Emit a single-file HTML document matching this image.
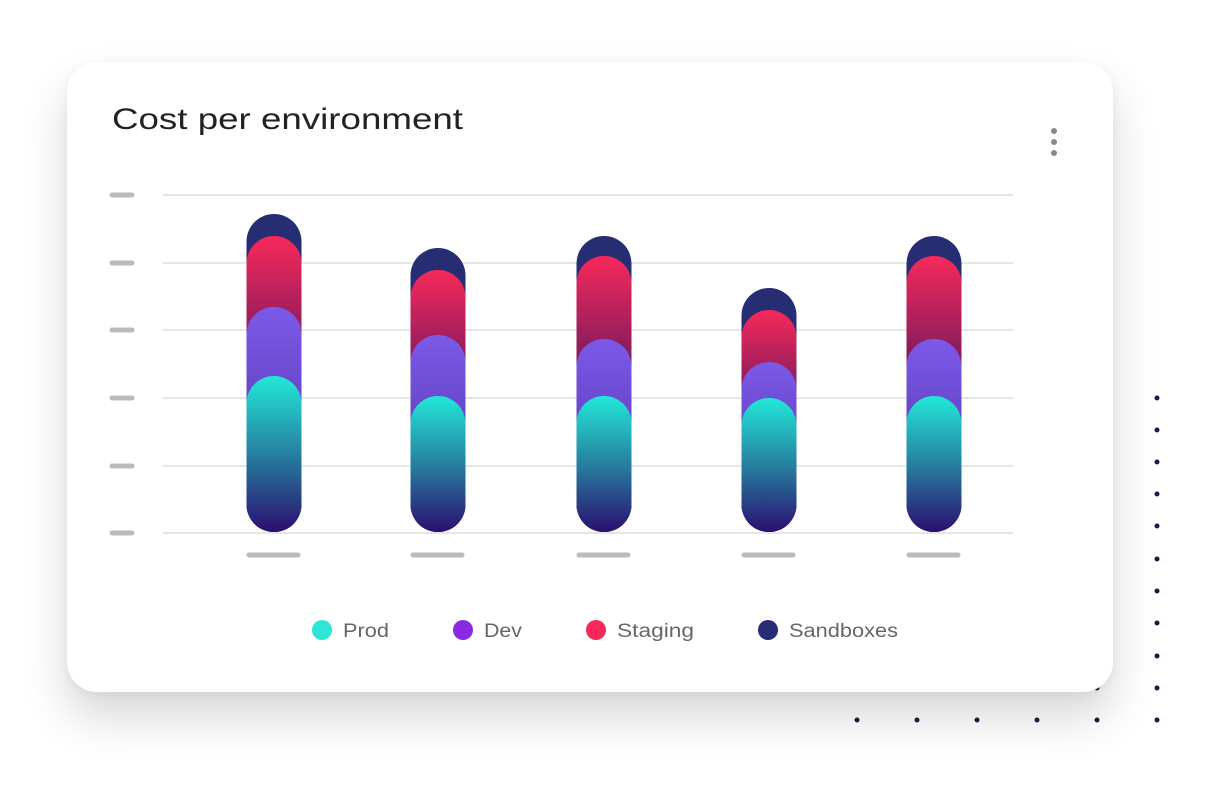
<!DOCTYPE html>
<html><head><style>
body{margin:0;width:1206px;height:786px;background:#fff;position:relative;overflow:hidden;font-family:"Liberation Sans",sans-serif}
.card{position:absolute;left:67px;top:62px;width:1046px;height:630px;background:#fff;border-radius:30px;box-shadow:0 25px 45px rgba(0,0,0,0.16),0 2px 10px rgba(0,0,0,0.05)}
</style></head><body>
<svg width="1206" height="786" style="position:absolute;left:0;top:0">
<g fill="#1a1a4a">
<circle cx="857" cy="720" r="2.5"/><circle cx="917" cy="720" r="2.5"/><circle cx="977" cy="720" r="2.5"/><circle cx="1037" cy="720" r="2.5"/><circle cx="1097" cy="720" r="2.5"/><circle cx="1097" cy="688" r="2.5"/>
<circle cx="1157" cy="398" r="2.5"/><circle cx="1157" cy="430" r="2.5"/><circle cx="1157" cy="462" r="2.5"/><circle cx="1157" cy="494" r="2.5"/><circle cx="1157" cy="526" r="2.5"/><circle cx="1157" cy="559" r="2.5"/><circle cx="1157" cy="591" r="2.5"/><circle cx="1157" cy="623" r="2.5"/><circle cx="1157" cy="656" r="2.5"/><circle cx="1157" cy="688" r="2.5"/><circle cx="1157" cy="720" r="2.5"/>
</g></svg>
<div class="card"></div>
<svg width="1206" height="786" style="position:absolute;left:0;top:0">
<defs>
<linearGradient id="st" x1="0" y1="0" x2="0" y2="1"><stop offset="0" stop-color="#f7295a"/><stop offset="0.4" stop-color="#7a1a5e"/><stop offset="1" stop-color="#501a6a"/></linearGradient>
<linearGradient id="dv" x1="0" y1="0" x2="0" y2="1"><stop offset="0" stop-color="#7c5ae8"/><stop offset="1" stop-color="#4a2aa0"/></linearGradient>
<linearGradient id="pr" x1="0" y1="0" x2="0" y2="1"><stop offset="0" stop-color="#22e8d8"/><stop offset="0.5" stop-color="#2680a0"/><stop offset="1" stop-color="#2a0f70"/></linearGradient>
</defs>
<text x="112" y="129" font-size="30" fill="#222" textLength="351" lengthAdjust="spacingAndGlyphs">Cost per environment</text>
<g fill="#888"><circle cx="1054" cy="131" r="3"/><circle cx="1054" cy="142" r="3"/><circle cx="1054" cy="153" r="3"/></g>
<g stroke="#e6e6e6" stroke-width="2"><line x1="163" x2="1013" y1="195" y2="195"/><line x1="163" x2="1013" y1="263" y2="263"/><line x1="163" x2="1013" y1="330" y2="330"/><line x1="163" x2="1013" y1="398" y2="398"/><line x1="163" x2="1013" y1="466" y2="466"/><line x1="163" x2="1013" y1="533" y2="533"/></g>
<g stroke="#bbb" stroke-width="5" stroke-linecap="round"><line x1="112" x2="132" y1="195" y2="195"/><line x1="112" x2="132" y1="263" y2="263"/><line x1="112" x2="132" y1="330" y2="330"/><line x1="112" x2="132" y1="398" y2="398"/><line x1="112" x2="132" y1="466" y2="466"/><line x1="112" x2="132" y1="533" y2="533"/>
<line x1="249" x2="298" y1="555" y2="555"/><line x1="413" x2="462" y1="555" y2="555"/><line x1="579" x2="628" y1="555" y2="555"/><line x1="744" x2="793" y1="555" y2="555"/><line x1="909" x2="958" y1="555" y2="555"/></g>
<g>
<rect x="246.5" y="214" width="55" height="318" rx="27.5" fill="#262d72"/><rect x="246.5" y="236" width="55" height="296" rx="27.5" fill="url(#st)"/><rect x="246.5" y="307" width="55" height="225" rx="27.5" fill="url(#dv)"/><rect x="246.5" y="376" width="55" height="156" rx="27.5" fill="url(#pr)"/>
<rect x="410.5" y="248" width="55" height="284" rx="27.5" fill="#262d72"/><rect x="410.5" y="270" width="55" height="262" rx="27.5" fill="url(#st)"/><rect x="410.5" y="335" width="55" height="197" rx="27.5" fill="url(#dv)"/><rect x="410.5" y="396" width="55" height="136" rx="27.5" fill="url(#pr)"/>
<rect x="576.5" y="236" width="55" height="296" rx="27.5" fill="#262d72"/><rect x="576.5" y="256" width="55" height="276" rx="27.5" fill="url(#st)"/><rect x="576.5" y="339" width="55" height="193" rx="27.5" fill="url(#dv)"/><rect x="576.5" y="396" width="55" height="136" rx="27.5" fill="url(#pr)"/>
<rect x="741.5" y="288" width="55" height="244" rx="27.5" fill="#262d72"/><rect x="741.5" y="310" width="55" height="222" rx="27.5" fill="url(#st)"/><rect x="741.5" y="362" width="55" height="170" rx="27.5" fill="url(#dv)"/><rect x="741.5" y="398" width="55" height="134" rx="27.5" fill="url(#pr)"/>
<rect x="906.5" y="236" width="55" height="296" rx="27.5" fill="#262d72"/><rect x="906.5" y="256" width="55" height="276" rx="27.5" fill="url(#st)"/><rect x="906.5" y="339" width="55" height="193" rx="27.5" fill="url(#dv)"/><rect x="906.5" y="396" width="55" height="136" rx="27.5" fill="url(#pr)"/>
</g>
<g font-size="19" fill="#666">
<circle cx="322" cy="630" r="10" fill="#2ee6d6"/><text x="343" y="637" textLength="46" lengthAdjust="spacingAndGlyphs">Prod</text>
<circle cx="463" cy="630" r="10" fill="#8a2be2"/><text x="484" y="637" textLength="38" lengthAdjust="spacingAndGlyphs">Dev</text>
<circle cx="596" cy="630" r="10" fill="#f7295a"/><text x="617" y="637" textLength="77" lengthAdjust="spacingAndGlyphs">Staging</text>
<circle cx="768" cy="630" r="10" fill="#262d72"/><text x="789" y="637" textLength="109" lengthAdjust="spacingAndGlyphs">Sandboxes</text>
</g>
</svg>
</body></html>
